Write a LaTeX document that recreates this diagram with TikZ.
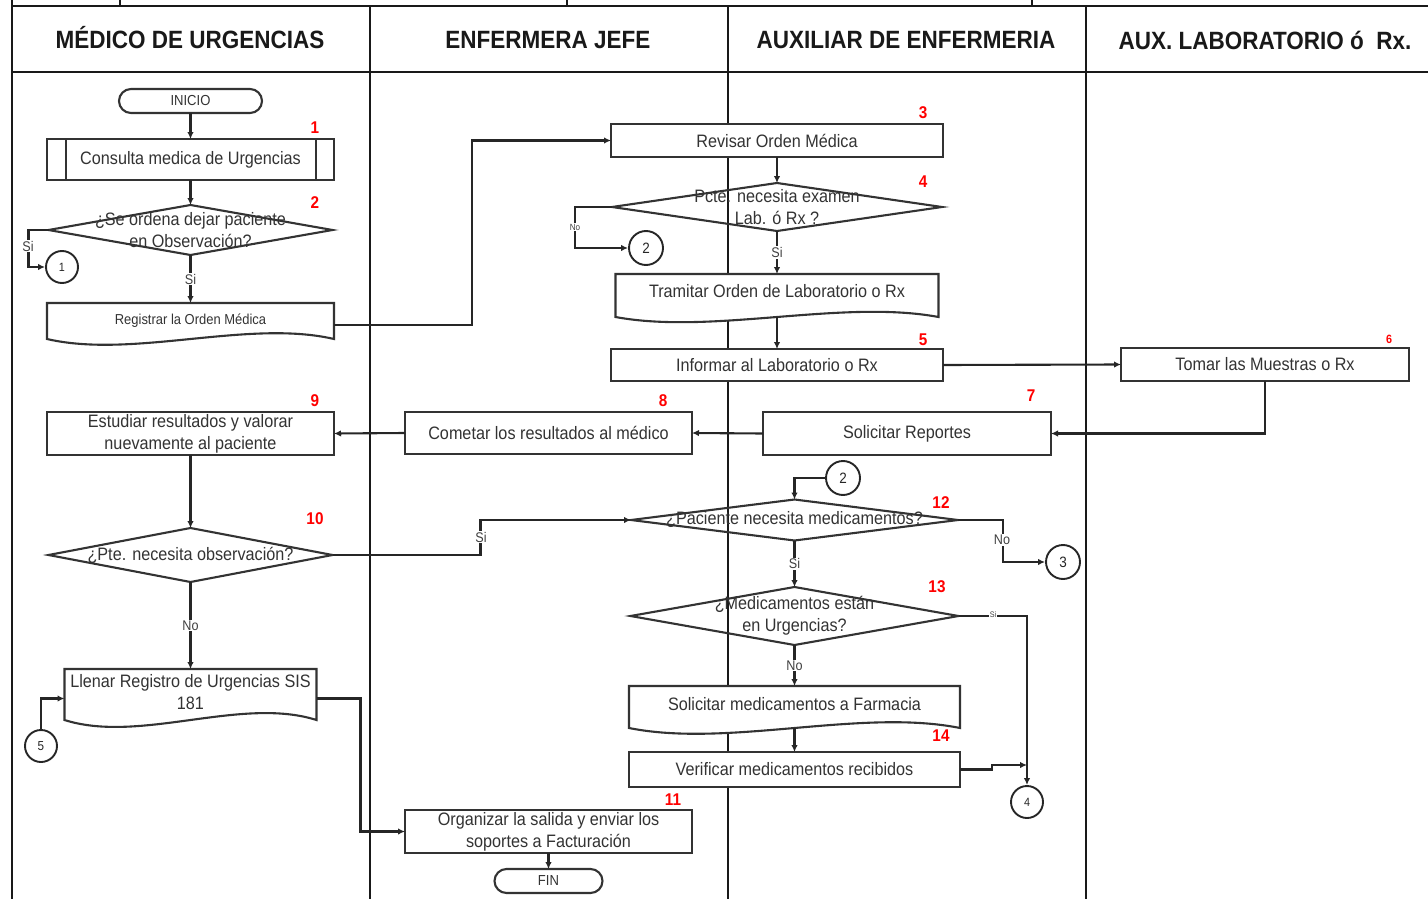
\documentclass[tikz,border=0pt]{standalone}
\usepackage{fontspec}
\setmainfont[FakeStretch=0.9]{Liberation Sans}
\usetikzlibrary{arrows.meta,calc,shapes.geometric}
\pgfdeclarelayer{lanes}
\pgfdeclarelayer{shade}
\pgfsetlayers{lanes,shade,main}

\tikzset{
  lane/.style={line width=2pt, draw=black!90},
  boxline/.style={draw=black!80, line width=2.1pt},
  box/.style={boxline, fill=white, inner sep=0pt, outer sep=0pt, align=center,
    text=black!80, font=\fontsize{18}{22}\selectfont},
  startend/.style={box, rounded corners=12pt, minimum height=24pt,
    font=\fontsize{14.5}{16}\selectfont},
  docnode/.style={inner sep=0pt, outer sep=0pt, align=center, text=black!80,
    font=\fontsize{18}{22}\selectfont},
  decide/.style={diamond, boxline, inner sep=0pt, outer sep=0pt},
  dtext/.style={align=center, inner sep=0pt, text=black!80,
    font=\fontsize{18}{22}\selectfont},
  conn/.style={circle, draw=black!85, line width=1.9pt, fill=white,
    minimum size=33pt, inner sep=0pt, text=black!85,
    font=\fontsize{15}{15}\selectfont},
  arr/.style={line width=2.1pt, draw=black!85, -{Latex[length=7pt,width=6.5pt]}},
  yn/.style={fill=white, inner sep=1pt, text=black!75,
    font=\fontsize{14}{14}\selectfont},
  tinyyn/.style={yn, font=\fontsize{9}{9}\selectfont},
  stepnum/.style={text=red, inner sep=0pt, font=\bfseries\fontsize{17}{17}\selectfont},
  lanehead/.style={inner sep=0pt, text=black!90, font=\bfseries\fontsize{25}{25}\selectfont},
}

% document symbol: straight top and sides, wavy bottom
\newcommand\docoutline[2]{%
  \begin{pgfonlayer}{shade}
    \draw[boxline, fill=white] (#1.north west) -- (#1.north east) -- (#1.south east)
      .. controls ($(#1.south east)!0.3!(#1.south west)+(0,-#2)$)
      and ($(#1.south east)!0.7!(#1.south west)+(0,#2)$) .. (#1.south west) -- cycle;
  \end{pgfonlayer}}

\begin{document}
\begin{tikzpicture}[x=1pt, y=-1pt]
\useasboundingbox (0,0) rectangle (1428,899);

% swimlane frame
\begin{pgfonlayer}{lanes}
  \draw[lane] (12,0) -- (12,899);
  \draw[lane] (120,0) -- (120,6);
  \draw[lane] (567,0) -- (567,6);
  \draw[lane] (1032,0) -- (1032,6);
  \draw[lane] (12,6) -- (1428,6);
  \draw[lane] (12,72) -- (1428,72);
  \draw[lane] (370,6) -- (370,899);
  \draw[lane] (728,6) -- (728,899);
  \draw[lane] (1086,6) -- (1086,899);
\end{pgfonlayer}

\node[lanehead] (h1) at (190,38) {MÉDICO DE URGENCIAS};
\node[lanehead] (h2) at (548,40) {ENFERMERA JEFE};
\node[lanehead] (h3) at (906,40) {AUXILIAR DE ENFERMERIA};
\node[lanehead] (h4) at (1265,40) {AUX. LABORATORIO ó\ \ Rx.};

% ---- Médico de urgencias
\node[startend, minimum width=143pt] (ini) at (190.5,101) {INICIO};
\node[box, minimum width=287pt, minimum height=41pt] (c1) at (190.5,159.5) {Consulta medica de Urgencias};
\draw[boxline] ([xshift=19pt]c1.north west) -- ([xshift=19pt]c1.south west);
\draw[boxline] ([xshift=-18pt]c1.north east) -- ([xshift=-18pt]c1.south east);
\node[decide, minimum width=284pt, minimum height=50pt,
  label={[dtext, name=d2t]center:¿Se ordena dejar paciente\\en Observación?}] (d2) at (190.5,230) {};
\node[conn, minimum size=32pt, font=\fontsize{12}{12}\selectfont] (k1) at (62,267) {1};
\node[docnode, minimum width=287pt, minimum height=36pt, font=\fontsize{14.4}{16}\selectfont] (reg) at (190.5,321) {Registrar la Orden Médica};
\docoutline{reg}{20}

\node[box, minimum width=287pt, minimum height=43pt] (e9) at (190.5,433.5) {Estudiar resultados y valorar\\nuevamente al paciente};
\node[decide, minimum width=284pt, minimum height=54pt,
  label={[dtext, name=d10t]center:¿Pte. necesita observación?}] (d10) at (190.5,555) {};
\node[docnode, minimum width=252pt, minimum height=51pt] (llen) at (190.5,694.5) {Llenar Registro de Urgencias SIS\\181\\[-16pt]};
\docoutline{llen}{24}
\node[conn, minimum size=32pt, font=\fontsize{13}{13}\selectfont] (k5) at (41,746) {5};

% ---- Enfermera jefe
\node[box, minimum width=287pt, minimum height=42pt] (c8) at (548.5,433) {Cometar los resultados al médico};
\node[box, minimum width=287pt, minimum height=43pt] (o11) at (548.5,831.5) {Organizar la salida y enviar los\\soportes a Facturación};
\node[startend, minimum width=108pt] (fin) at (548.5,881) {FIN};

% ---- Auxiliar de enfermería
\node[box, minimum width=332pt, minimum height=33pt] (r3) at (777,140.5) {Revisar Orden Médica};
\node[decide, minimum width=330pt, minimum height=48pt,
  label={[dtext, name=d4t]center:Pcte. necesita examen\\Lab. ó Rx ?}] (d4) at (777,207) {};
\node[conn, minimum size=34pt] (k2a) at (646,248) {2};
\node[docnode, minimum width=323pt, minimum height=43pt] (tram) at (777,295.5) {Tramitar Orden de Laboratorio o Rx\\[-13pt]};
\docoutline{tram}{18}
\node[box, minimum width=332pt, minimum height=32pt] (i5) at (777,365) {Informar al Laboratorio o Rx};
\node[box, minimum width=288pt, minimum height=43pt] (s7) at (907,433.5) {Solicitar Reportes};

\node[conn, minimum size=34pt] (k2b) at (843,478) {2};
\node[decide, minimum width=327pt, minimum height=41pt,
  label={[dtext, name=d12t]center:¿Paciente necesita medicamentos?}] (d12) at (794.5,520) {};
\node[conn, minimum size=34pt] (k3) at (1063,562) {3};
\node[decide, minimum width=328pt, minimum height=58pt,
  label={[dtext, name=d13t]center:¿Medicamentos están\\en Urgencias?}] (d13) at (794.5,616) {};
\node[docnode, minimum width=331pt, minimum height=42pt] (solm) at (794.5,707) {Solicitar medicamentos a Farmacia\\[-16pt]};
\docoutline{solm}{20}
\node[box, minimum width=331pt, minimum height=35pt] (v14) at (794.5,769.5) {Verificar medicamentos recibidos};
\node[conn, minimum size=32pt, font=\fontsize{12}{12}\selectfont] (k4) at (1027,802) {4};
\coordinate (j4) at (1027,765);

% ---- Aux. laboratorio o Rx
\node[box, minimum width=288pt, minimum height=33pt] (t6) at (1265,364.5) {Tomar las Muestras o Rx};

% ---- step numbers
\node[stepnum] (n1) at (315,128) {1};
\node[stepnum] (n2) at (315,203) {2};
\node[stepnum] (n3) at (923,113) {3};
\node[stepnum] (n4) at (923,182) {4};
\node[stepnum] (n5) at (923,340) {5};
\node[stepnum, font=\bfseries\fontsize{12}{12}\selectfont] (n6) at (1389,339) {6};
\node[stepnum] (n7) at (1031,396) {7};
\node[stepnum] (n8) at (663,401) {8};
\node[stepnum] (n9) at (315,401) {9};
\node[stepnum] (n10) at (315,519) {10};
\node[stepnum] (n11) at (673,800) {11};
\node[stepnum] (n12) at (941,503) {12};
\node[stepnum] (n13) at (937,587) {13};
\node[stepnum] (n14) at (941,736) {14};

% ---- connectors
\draw[arr] (ini.south) -- (c1.north);
\draw[arr] (c1.south) -- (d2.north);
\draw[arr] (d2.west) -- ++(-20,0) |- (k1.west);
\node[yn] (y1) at (28,246) {Si};
\draw[arr] (d2.south) -- node[yn] (y2) {Si} (reg.north);
\draw[arr] ([yshift=-4pt]reg.east) -- ++(138,0) |- (r3.west);
\draw[arr] (r3.south) -- (d4.north);
\draw[arr] (d4.west) -- ++(-37,0) |- (k2a.west);
\node[tinyyn] (y3) at (575,227) {No};
\draw[arr] (d4.south) -- node[yn] (y4) {Si} (tram.north);
\draw[arr] (tram.south) -- (i5.north);
\draw[arr] (i5.east) -- (t6.west);
\draw[arr] (t6.south) |- (s7.east);
\draw[arr] (s7.west) -- (c8.east);
\draw[arr] (c8.west) -- (e9.east);
\draw[arr] (e9.south) -- (d10.north);
\draw[arr] (d10.east) -- ++(148,0) |- (d12.west);
\node[yn] (y5) at (481,537) {Si};
\draw[arr] (d10.south) -- node[yn] (y6) {No} (llen.north);
\draw[arr] (k5.north) |- ([yshift=-4pt]llen.west);
\draw[arr] ([yshift=-4pt]llen.east) -- ++(44,0) |- (o11.west);
\draw[arr] (o11.south) -- (fin.north);
\draw[arr] (k2b.west) -| (d12.north);
\draw[arr] (d12.east) -- ++(45,0) |- (k3.west);
\node[yn] (y7) at (1002,540) {No};
\draw[arr] (d12.south) -- node[yn] (y8) {Si} (d13.north);
\draw[arr] (d13.east) -| (k4.north);
\node[tinyyn, font=\fontsize{8}{8}\selectfont] (y9) at (993,615) {Si};
\draw[arr] (d13.south) -- node[yn] (y10) {No} (solm.north);
\draw[arr] (solm.south) -- (v14.north);
\draw[arr] (v14.east) -- ++(32,0) |- (j4);
\end{tikzpicture}
\end{document}
